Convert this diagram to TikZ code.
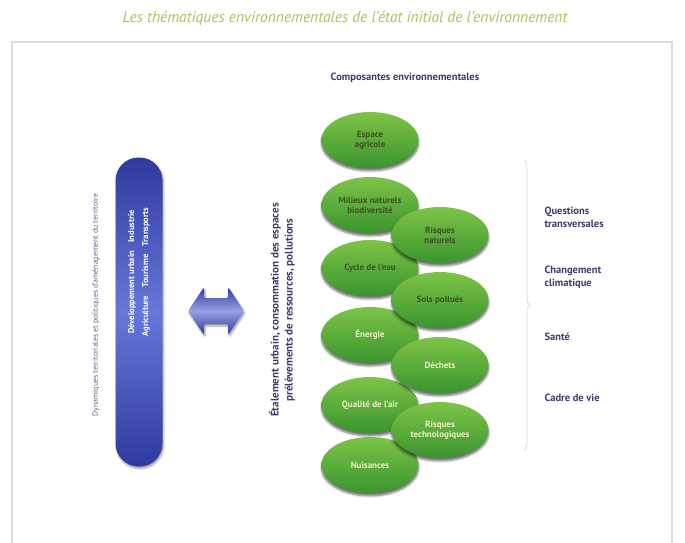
\documentclass[tikz,border=0pt]{standalone}
\usepackage{fontspec}
\setmainfont{PT Sans}
\usetikzlibrary{shapes.geometric,shadows.blur,decorations.pathreplacing}
\definecolor{vertclair}{HTML}{7DC447}
\definecolor{vertfonce}{HTML}{3A952E}
\definecolor{textefonce}{HTML}{3F4F22}
\definecolor{texteclair}{HTML}{F2F0C8}
\definecolor{bleufonce}{HTML}{2F3A9E}
\definecolor{bleuclair}{HTML}{6877DA}
\definecolor{marine}{HTML}{3C3C6E}
\definecolor{titrevert}{HTML}{A9C25E}
\definecolor{cadre}{HTML}{DCDCDC}
\begin{document}
\begin{tikzpicture}[x=1pt, y=-1pt,
    pastille/.style={ellipse, minimum width=97pt, minimum height=56pt, inner sep=0pt,
        top color=vertclair, bottom color=vertfonce, align=center,
        font=\fontsize{9}{10}\selectfont\bfseries,
        blur shadow={shadow xshift=0pt, shadow yshift=-3pt, shadow blur steps=6, shadow opacity=55}},
    haut/.style={pastille, text=textefonce},
    bas/.style={pastille, text=texteclair},
    theme/.style={anchor=west, align=left, text=marine, font=\fontsize{10.5}{13}\selectfont\bfseries}]
    \useasboundingbox (0,0) rectangle (685,543);
    % titre et cadre
    \node[text=titrevert, font=\fontsize{15.5}{18}\selectfont\itshape] (titre) at (345,18)
        {Les thématiques environnementales de l'état initial de l'environnement};
    \draw[cadre, line width=1.2pt] (12,543)--(12,42)--(672,42)--(672,543);
    \node[text=marine, font=\fontsize{10.5}{13}\selectfont\bfseries] (composantes) at (405,78)
        {Composantes environnementales};
    % dynamiques territoriales
    \node[rotate=90, text=marine!80, font=\fontsize{7.8}{9}\selectfont] (dynamiques) at (96,305)
        {Dynamiques territoriales et politiques d'aménagement du territoire};
    \node[rotate=90, minimum width=309pt, minimum height=47pt, rounded corners=23pt,
        top color=bleufonce, bottom color=bleufonce, middle color=bleuclair,
        blur shadow={shadow xshift=1pt, shadow yshift=-2pt, shadow opacity=40}] (barre) at (139,312) {};
    \node[rotate=90, text=white, align=center, font=\fontsize{8.5}{14}\selectfont\bfseries] (activites) at (139,272)
        {Développement urbain\quad Industrie\\Agriculture\quad Tourisme\quad Transports};
    % double fleche
    \path[top color=bleufonce, bottom color=bleufonce, middle color=bleuclair!70!white,
        rounded corners=1.5pt, blur shadow={shadow xshift=1pt, shadow yshift=-2pt, shadow opacity=40}]
        (188,311)--(204,287)--(204,298)--(228,298)--(228,287)--(244,311)
        --(228,335)--(228,324)--(204,324)--(204,335)--cycle;
    \node[rotate=90, text=marine, align=center, font=\fontsize{11}{14}\selectfont\bfseries] (pressions) at (282,310)
        {Étalement urbain, consommation des espaces\\prélèvements de ressources, pollutions};
    % composantes, colonne gauche
    \node[haut] (foncier) at (370,140) {Espace\\agricole};
    \node[haut] (milieux) at (370,205) {Milieux naturels\\biodiversité};
    \node[haut] (eau) at (370,268) {Cycle de l'eau};
    \node[bas] (energie) at (370,335) {Énergie};
    \node[bas] (air) at (370,405) {Qualité de l'air};
    \node[bas] (nuisances) at (370,465) {Nuisances};
    % composantes, colonne droite
    \node[haut] (naturels) at (440,235) {Risques\\naturels};
    \node[haut] (sols) at (440,300) {Sols pollués};
    \node[bas] (dechets) at (440,365) {Déchets};
    \node[bas] (techno) at (440,430) {Risques\\technologiques};
    % questions transversales
    \draw[cadre, line width=0.8pt, decorate, decoration={brace, amplitude=6pt}] (524,160)--(524,450);
    \node[theme] (transversales) at (541,217) {Questions\\transversales};
    \node[theme] (climat) at (541,277) {Changement\\climatique};
    \node[theme] (sante) at (541,337) {Santé};
    \node[theme] (cadrevie) at (541,398) {Cadre de vie};
\end{tikzpicture}
\end{document}
